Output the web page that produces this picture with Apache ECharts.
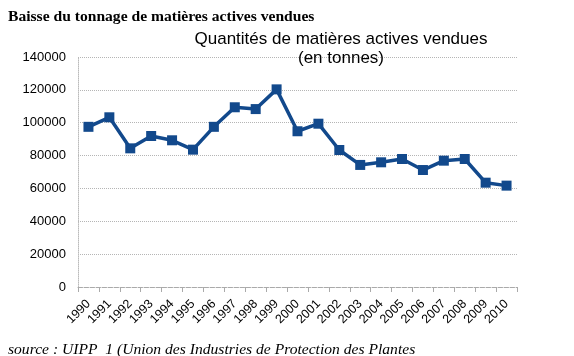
<!DOCTYPE html>
<html>
<head>
<meta charset="utf-8">
<script src="https://cdn.jsdelivr.net/npm/echarts@6/dist/echarts.min.js"></script>
<style>
html,body{margin:0;padding:0;background:#fff;}
#chart{width:574px;height:356px;}
</style>
</head>
<body>
<div id="chart"></div>
<script>
var years = ['1990','1991','1992','1993','1994','1995','1996','1997','1998','1999','2000','2001','2002','2003','2004','2005','2006','2007','2008','2009','2010'];
var tonnage = [97500, 103300, 84400, 91900, 89300, 83600, 97500, 109400, 108300, 120300, 94800, 99400, 83400, 74300, 75900, 77900, 71200, 76900, 77900, 63500, 61700];
var yTicks = [0, 20000, 40000, 60000, 80000, 100000, 120000, 140000];

var chart = echarts.init(document.getElementById('chart'), null, {renderer:'canvas'});
chart.setOption({
  animation: false,
  backgroundColor: '#fff',
  title: [
    {
      text: 'Baisse du tonnage de matières actives vendues',
      left: 3, top: 4,
      textStyle: {fontFamily: 'Liberation Serif', fontWeight: 'bold', fontSize: 15.6, color: '#000'}
    },
    {
      text: 'Quantités de matières actives vendues\n(en tonnes)',
      left: 336, top: 25, textAlign: 'center',
      textStyle: {fontFamily: 'Liberation Sans', fontWeight: 'normal', fontSize: 17, lineHeight: 19, color: '#000'}
    },
    {
      text: 'source : UIPP  1 (Union des Industries de Protection des Plantes',
      left: 3, top: 337,
      textStyle: {fontFamily: 'Liberation Serif', fontStyle: 'italic', fontWeight: 'normal', fontSize: 15.6, color: '#000'}
    }
  ],
  grid: {left: 78, right: 57, top: 57, bottom: 69},
  xAxis: {
    type: 'category',
    data: years,
    boundaryGap: true,
    axisLine: {show: true, lineStyle: {color: '#aaa', type: 'dashed', width: 1}},
    axisTick: {show: true, length: 5, lineStyle: {color: '#aaa'}},
    axisLabel: {interval: 0, rotate: 45, fontSize: 12.5, fontFamily: 'Liberation Sans', color: '#000',
      margin: 15},
    splitLine: {show: false}
  },
  yAxis: {
    type: 'value',
    min: yTicks[0], max: yTicks[yTicks.length-1], interval: yTicks[1]-yTicks[0],
    axisLine: {show: true, lineStyle: {color: '#bbb', type: 'dotted', width: 1}},
    axisTick: {show: false},
    axisLabel: {fontSize: 13, fontFamily: 'Liberation Sans', color: '#000', margin: 12,
      formatter: function (v) { return String(v); }},
    splitLine: {show: true, lineStyle: {color: '#b5b5b5', type: 'dotted', width: 1}}
  },
  series: [{
    type: 'line',
    data: tonnage,
    symbol: 'rect',
    symbolSize: 10,
    lineStyle: {color: '#12498C', width: 3.5},
    itemStyle: {color: '#12498C'}
  }]
});
</script>
</body>
</html>
